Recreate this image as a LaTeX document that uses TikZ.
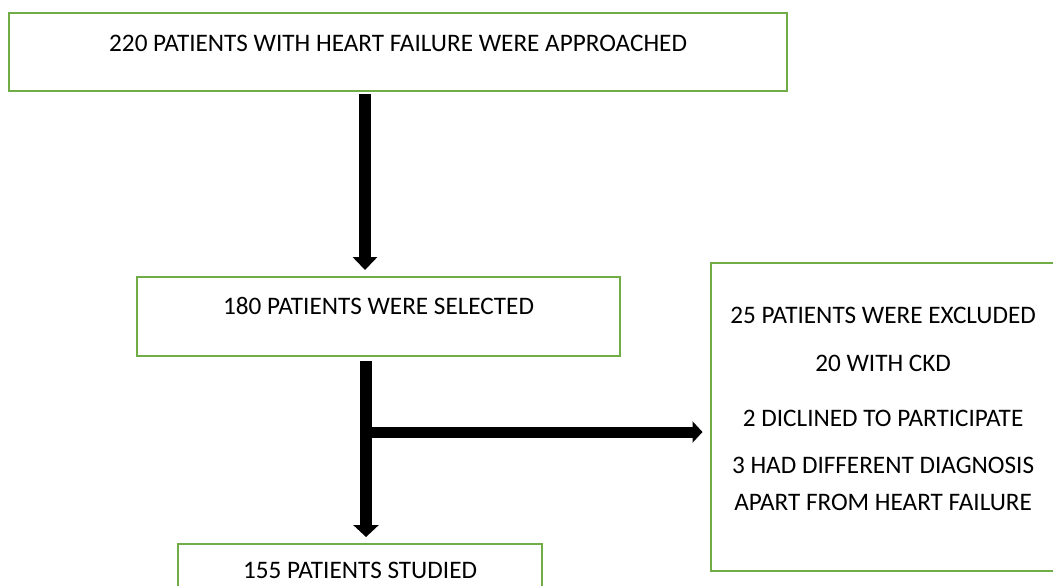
\documentclass[tikz,border=0pt]{standalone}
\usepackage{fontspec}
\setmainfont{Carlito}
\usetikzlibrary{positioning}
\usetikzlibrary{arrows.meta}
\definecolor{boxgreen}{HTML}{70AD47}

\begin{document}
\begin{tikzpicture}[x=0.5pt, y=-0.5pt]
\useasboundingbox (0,0) rectangle (1053,585);

\begin{scope}[every node/.style={draw=boxgreen, line width=1.1pt, anchor=north west,
              inner xsep=0pt, inner ysep=0pt,
              font=\fontsize{12.6pt}{18.5pt}\selectfont}]
  \node[minimum width=389pt, text height=19pt, text depth=20pt] (approach) at (8,12)
    {220 PATIENTS WITH HEART FAILURE WERE APPROACHED};
  \node[minimum width=241.5pt, text height=18.5pt, text depth=21pt] (selected) at (136,276)
    {180 PATIENTS WERE SELECTED};
  \node[minimum width=182pt, text height=17pt, text depth=22pt] (studied) at (177,543)
    {155 PATIENTS STUDIED};
  \node[minimum width=172.5pt, minimum height=154pt, align=center] (excluded) at (709.5,262)
    {25 PATIENTS WERE EXCLUDED\\[5.5pt]
     20 WITH CKD\\[9pt]
     2 DICLINED TO PARTICIPATE\\[5pt]
     3 HAD DIFFERENT DIAGNOSIS\\
     APART FROM HEART FAILURE\rule[-8pt]{0pt}{0pt}};
\end{scope}

\coordinate (stem1) at (365,0);
\coordinate (stem2) at (366,0);
\coordinate (branch) at (366,432);

\begin{scope}[every edge/.style={draw=black}]
    \path [-{Triangle[width=12pt, length=6.5pt]}, line width=6pt]
      (approach.south -| stem1) edge[shorten <=1pt, shorten >=3pt] (selected.north -| stem1);
    \path [-{Triangle[width=12.5pt, length=6pt]}, line width=6pt]
      (selected.south -| stem2) edge[shorten <=2pt, shorten >=3pt] (studied.north -| stem2);
    \path [-{Triangle[width=10.5pt, length=5pt]}, line width=5.5pt]
      (branch) edge[shorten >=3.5pt] (excluded.west |- branch);
\end{scope}
\end{tikzpicture}
\end{document}
